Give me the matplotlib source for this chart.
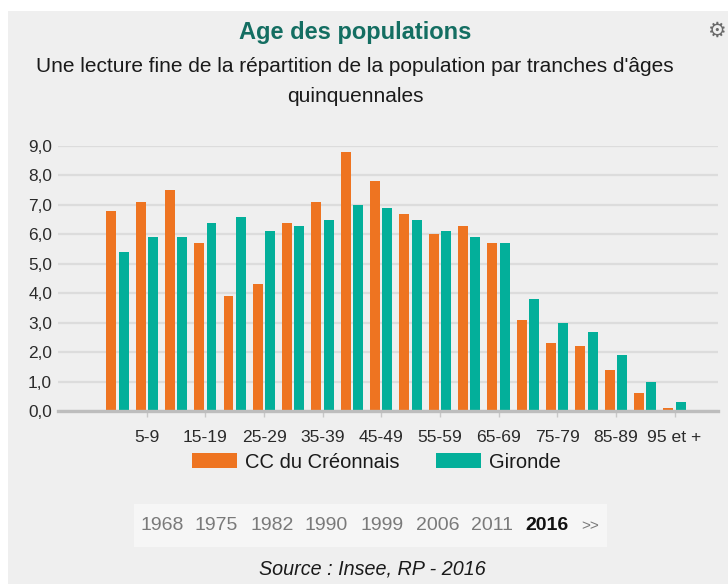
import matplotlib
matplotlib.use("Agg")
import matplotlib.pyplot as plt
from matplotlib.patches import Rectangle, Patch
import numpy as np

plt.rcParams['font.family'] = ['Liberation Sans', 'DejaVu Sans']

categories = ["0-4", "5-9", "10-14", "15-19", "20-24", "25-29", "30-34", "35-39",
              "40-44", "45-49", "50-54", "55-59", "60-64", "65-69", "70-74",
              "75-79", "80-84", "85-89", "90-94", "95 et +"]
creonnais = [6.8, 7.1, 7.5, 5.7, 3.9, 4.3, 6.4, 7.1, 8.8, 7.8,
             6.7, 6.0, 6.3, 5.7, 3.1, 2.3, 2.2, 1.4, 0.6, 0.1]
gironde = [5.4, 5.9, 5.9, 6.4, 6.6, 6.1, 6.3, 6.5, 7.0, 6.9,
           6.5, 6.1, 5.9, 5.7, 3.8, 3.0, 2.7, 1.9, 1.0, 0.3]
series_names = ["CC du Créonnais", "Gironde"]
years = ["1968", "1975", "1982", "1990", "1999", "2006", "2011", "2016"]
selected_year = "2016"
y_ticks = [0, 1, 2, 3, 4, 5, 6, 7, 8, 9]

ORANGE = "#EE7421"
TEAL = "#03AF9A"
W, H = 728, 584

fig = plt.figure(figsize=(W / 100, H / 100), dpi=100)
fig.patch.set_facecolor("white")

def fx(px):
    return px / W

def fy(py):
    return 1 - py / H

# panel background
fig.patches.append(Rectangle((fx(8), 0), 1 - fx(8), fy(11), transform=fig.transFigure,
                             facecolor="#EFEFEF", edgecolor="none", zorder=-10))
# year selector box
fig.patches.append(Rectangle((fx(134), fy(547)), fx(607) - fx(134), fy(504) - fy(547),
                             transform=fig.transFigure, facecolor="#F6F6F6",
                             edgecolor="none", zorder=-5))

ax = fig.add_axes([fx(58), fy(411), fx(718) - fx(58), fy(146) - fy(411)])
ax.set_facecolor("none")

x = np.arange(len(categories))
bw = 0.34
ax.bar(x - 0.215, creonnais, width=bw, color=ORANGE, zorder=3)
ax.bar(x + 0.205, gironde, width=bw, color=TEAL, zorder=3)

ax.set_xlim(-2.03, 20.48)
ax.set_ylim(0, 9.0)
ax.set_yticks(y_ticks)
ax.set_yticklabels([f"{v:.1f}".replace(".", ",") for v in y_ticks],
                   fontsize=12.4, color="#2A2A2A")
ax.tick_params(axis="y", length=0, pad=4.3)
ax.yaxis.grid(True, color="#DCDCDC", linewidth=1.6, zorder=0)
ax.set_axisbelow(True)

odd = x[1::2]
ax.set_xticks(odd)
ax.set_xticklabels([categories[i] for i in odd], fontsize=12.6, color="#2A2A2A")
ax.tick_params(axis="x", length=4, color="#C8C8C8", width=1, pad=10)

for s in ["top", "right", "left"]:
    ax.spines[s].set_visible(False)
ax.spines["bottom"].set_color("#BDBDBD")
ax.spines["bottom"].set_linewidth(2.4)
ax.spines["bottom"].set_zorder(4)

# titles
fig.text(fx(355), fy(33), "Age des populations", ha="center", va="center",
         fontsize=17, fontweight="bold", color="#146E62")
fig.text(fx(355), fy(67), "Une lecture fine de la répartition de la population par tranches d'âges",
         ha="center", va="center", fontsize=15, color="#1A1A1A")
fig.text(fx(355), fy(96), "quinquennales", ha="center", va="center",
         fontsize=15, color="#1A1A1A")

# gear icon
fig.text(fx(716), fy(31), "\u2699", ha="center", va="center", fontsize=15,
         color="#6A6A6A", family="DejaVu Sans")

# legend
handles = [Patch(facecolor=ORANGE, edgecolor="none"), Patch(facecolor=TEAL, edgecolor="none")]
fig.legend(handles, series_names, loc="center", bbox_to_anchor=(fx(376), fy(462)),
           ncol=2, frameon=False, fontsize=14.5, handlelength=2.24, handleheight=0.8,
           handletextpad=0.4, columnspacing=1.8, labelcolor="#1A1A1A")

# year selector
year_x = [140, 195, 250, 305, 361, 416, 471, 525]
for yr, px in zip(years, year_x):
    if yr == selected_year:
        fig.text(fx(px), fy(526), yr, ha="left", va="center", fontsize=14,
                 fontweight="bold", color="#111111")
    else:
        fig.text(fx(px), fy(526), yr, ha="left", va="center", fontsize=14, color="#7A7A7A")
fig.text(fx(581), fy(526), ">>", ha="left", va="center", fontsize=11, color="#7A7A7A")

fig.text(fx(372), fy(569), "Source : Insee, RP - 2016", ha="center", va="center",
         fontsize=14.2, style="italic", color="#1A1A1A")

fig.savefig("out.png", dpi=100)
